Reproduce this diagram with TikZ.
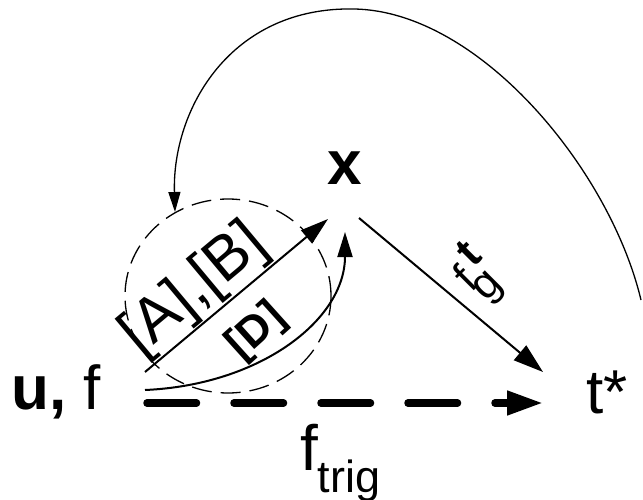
\documentclass[tikz,border=0pt]{standalone}
\usepackage{fontspec}
\setmainfont{Liberation Sans}
\usetikzlibrary{arrows.meta}

\begin{document}
\begin{tikzpicture}[x=1pt,y=-1pt,
		big/.style={font=\fontsize{62}{62}\selectfont, inner sep=0pt},
		bigbold/.style={font=\fontsize{62}{62}\selectfont\bfseries, inner sep=0pt},
		thin/.style={line width=2pt},
		fine/.style={line width=1.3pt}]
		\useasboundingbox (0,0) rectangle (643,500);
		\node[big, anchor=base west] (uf) at (11,409) {\textbf{u,} f};
		\node[bigbold] (x) at (345,168) {x};
		\node[big, anchor=base west] (tstar) at (586,413) {t*};
		\node[anchor=base west, inner sep=0pt, font=\fontsize{64}{64}\selectfont] (ftrig) at (300,470) {f\raisebox{-22pt}{\fontsize{45}{45}\selectfont trig}};
		\coordinate (ab0) at (145,372);
		\coordinate (ab1) at (328,219);
		\coordinate (d0) at (145,390);
		\coordinate (d1) at (345,232);
		\coordinate (xt0) at (359,218);
		\coordinate (xt1) at (543,372);
		\coordinate (tr0) at (147,403);
		\coordinate (tr1) at (543,403);
		\coordinate (fb0) at (641,300);
		\coordinate (fb1) at (175,212);
		\draw[fine, dash pattern=on 20pt off 9pt] (228,296) ellipse [x radius=103pt, y radius=97pt];
		\draw[thin, -{Triangle[length=28pt,width=17pt]}] (ab0) -- node[big, pos=0.38, sloped, above, inner sep=1pt] (ablab) {[A],[B]} (ab1);
		\draw[thin, -{Triangle[length=25pt,width=15pt]}] (d0) .. controls (260,385) and (345,320) .. (d1);
		\node[font=\fontsize{44}{44}\selectfont\bfseries, rotate=42, inner sep=0pt] (dlab) at (257,332) {[D]};
		\draw[thin, -{Triangle[length=30pt,width=19pt]}] (xt0) -- (xt1);
		\node[rotate=45, anchor=base west, inner sep=0pt, font=\fontsize{44}{44}\selectfont] (xtlab) at (471,294) {\rlap{f}\kern4.5pt\rlap{\raisebox{-17pt}{g}}\kern15.3pt\raisebox{16.6pt}{\textbf{t}}};
		\draw[line width=7.5pt, line cap=round, dash pattern=on 49.5pt off 37.5pt, -{Triangle[length=36pt,width=23pt]}] (tr0) -- (tr1);
		\draw[fine, -{Triangle[length=20pt,width=12pt]}] (fb0) .. controls (610,170) and (480,12) .. (355,9) .. controls (230,6) and (172,110) .. (fb1);
	\end{tikzpicture}
\end{document}
